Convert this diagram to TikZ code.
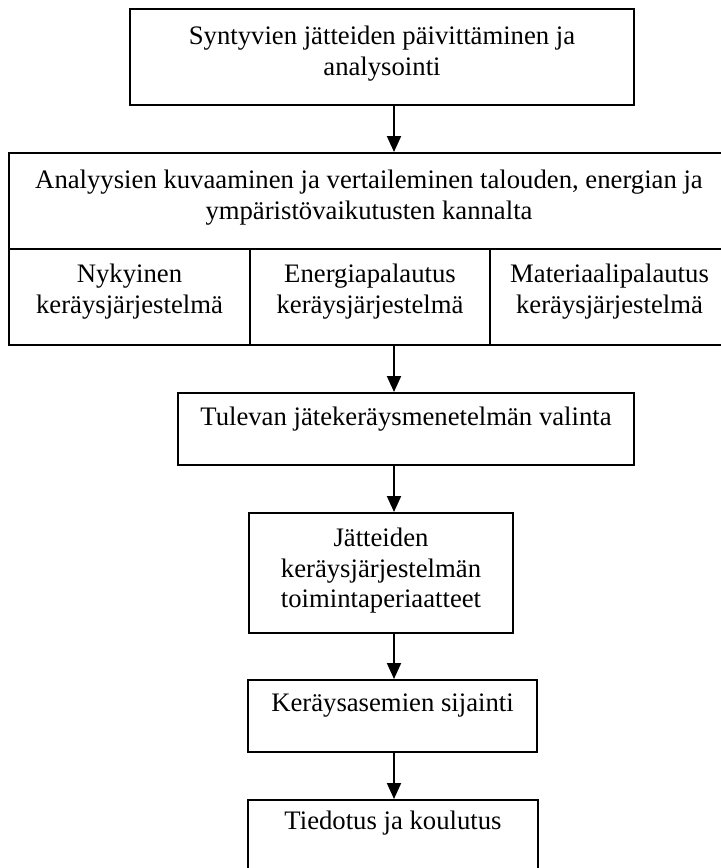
\documentclass[tikz,border=0pt]{standalone}
\usepackage{fontspec}
\setmainfont{Liberation Serif}
\usetikzlibrary{arrows.meta,fit}
\begin{document}
\begin{tikzpicture}[x=0.5pt,y=-0.5pt,
  box/.style={draw, line width=1pt, inner sep=0pt},
  txt/.style={align=center, inner sep=0pt, anchor=north, font=\fontsize{13.35}{15.35}\selectfont},
  arr/.style={-{Triangle[length=8pt,width=7pt]}, line width=1pt}]
\useasboundingbox (0,0) rectangle (721,868);
% boxes
\node[box, fit={(130,9) (634,105)}] (b1) {};
\node[box, fit={(9,153) (729,249)}] (b2) {};
\node[box, fit={(9,249) (250,345)}] (c1) {};
\node[box, fit={(250,249) (490,345)}] (c2) {};
\node[box, fit={(490,249) (729,345)}] (c3) {};
\node[box, fit={(178,393) (634,465)}] (b3) {};
\node[box, fit={(249,513) (513,633)}] (b4) {};
\node[box, fit={(248,680) (537,752)}] (b5) {};
\node[box, fit={(248,800) (538,900)}] (b6) {};
% texts
\node[txt] (t1) at (382,22.5) {\strut Syntyvien jätteiden päivittäminen ja\\analysointi};
\node[txt] (t2) at (369,166.5) {\strut Analyysien kuvaaminen ja vertaileminen talouden, energian ja\\ympäristövaikutusten kannalta};
\node[txt] (t2a) at (129.5,260.5) {\strut Nykyinen\\keräysjärjestelmä};
\node[txt] (t2b) at (370,260.5) {\strut Energiapalautus\\keräysjärjestelmä};
\node[txt] (t2c) at (609.5,260.5) {\strut Materiaalipalautus\\keräysjärjestelmä};
\node[txt] (t3) at (406,403.5) {\strut Tulevan jätekeräysmenetelmän valinta};
\node[txt] (t4) at (381,524.5) {\strut Jätteiden\\keräysjärjestelmän\\toimintaperiaatteet};
\node[txt] (t5) at (392.5,689.5) {\strut Keräysasemien sijainti};
\node[txt] (t6) at (393,807.5) {\strut Tiedotus ja koulutus};
% arrows
\coordinate (ax) at (394,0);
\draw[arr] (b1.south -| ax) -- (b2.north -| ax);
\draw[arr] (c2.south -| ax) -- (b3.north -| ax);
\draw[arr] (b3.south -| ax) -- (b4.north -| ax);
\draw[arr] (b4.south -| ax) -- (b5.north -| ax);
\draw[arr] (b5.south -| ax) -- (b6.north -| ax);
\end{tikzpicture}
\end{document}
